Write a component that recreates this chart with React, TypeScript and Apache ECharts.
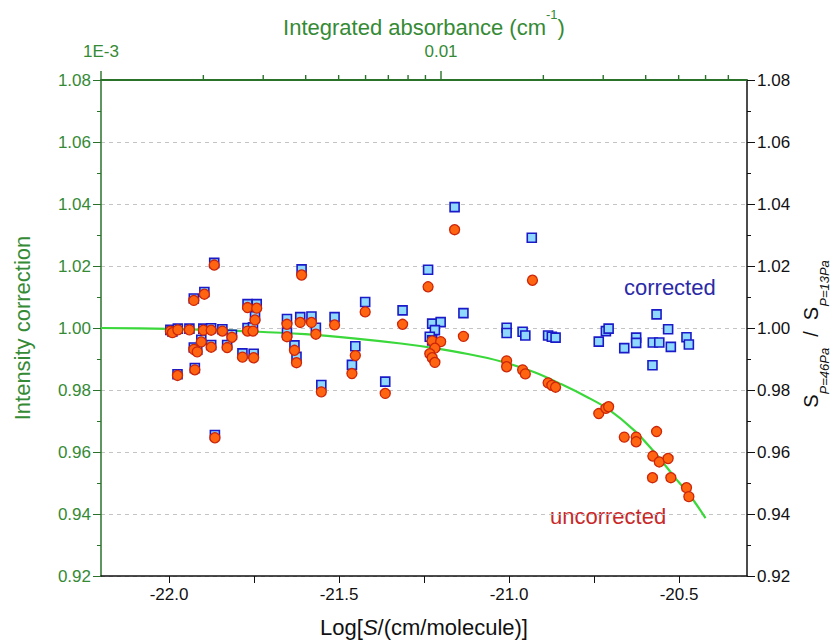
import React, { useEffect, useRef } from "react";
import * as echarts from "echarts";

// ---------- data ----------
const X_LABEL_TICKS = [-22.0, -21.5, -21.0, -20.5];
const X_ALL_TICKS = [-22.0, -21.75, -21.5, -21.25, -21.0, -20.75, -20.5];
const TOP_MAJOR = [0.001, 0.01];
const TOP_LABELS = ["1E-3", "0.01"];
const TOP_MINOR = [0.002, 0.003, 0.004, 0.005, 0.006, 0.007, 0.008, 0.009, 0.02, 0.03, 0.04, 0.05, 0.06, 0.07];

const UNCORRECTED: [number, number][] = [
  [-21.867, 1.0203], [-21.927, 1.0089], [-21.896, 1.0109], [-21.996, 0.999], [-21.99, 0.9985],
  [-21.974, 0.9994], [-21.94, 0.9994], [-21.899, 0.9993], [-21.876, 0.9993], [-21.843, 0.999],
  [-21.815, 0.997], [-21.769, 0.999], [-21.753, 0.999], [-21.769, 1.0066], [-21.742, 1.0064],
  [-21.747, 1.0026], [-21.905, 0.9955], [-21.927, 0.9931], [-21.917, 0.9923], [-21.876, 0.9938],
  [-21.829, 0.9937], [-21.784, 0.9906], [-21.751, 0.9904], [-21.975, 0.9847], [-21.924, 0.9865],
  [-21.865, 0.9646],
  [-21.61, 1.0171], [-21.653, 1.0012], [-21.653, 0.9972], [-21.614, 1.0018], [-21.581, 1.0018],
  [-21.568, 0.998], [-21.513, 1.001], [-21.423, 1.0052], [-21.313, 1.0012], [-21.238, 1.0133],
  [-21.16, 1.0317], [-21.631, 0.9928], [-21.625, 0.9888], [-21.452, 0.9911], [-21.462, 0.9853],
  [-21.552, 0.9794], [-21.364, 0.9789], [-21.226, 0.9958], [-21.201, 0.9956], [-21.218, 0.9935],
  [-21.233, 0.9917], [-21.226, 0.9904], [-21.218, 0.9889],
  [-21.134, 0.9973], [-20.931, 1.0154], [-21.007, 0.9894], [-21.007, 0.9875], [-20.96, 0.9865],
  [-20.952, 0.9852], [-20.885, 0.9823], [-20.874, 0.9815], [-20.863, 0.9809], [-20.736, 0.9724],
  [-20.715, 0.9741], [-20.707, 0.9746], [-20.661, 0.9648], [-20.626, 0.9648], [-20.626, 0.9633],
  [-20.566, 0.9666], [-20.577, 0.9587], [-20.558, 0.9568], [-20.532, 0.9579], [-20.578, 0.9517],
  [-20.524, 0.9517], [-20.478, 0.9485], [-20.471, 0.9456],
];

const CORRECTED: [number, number][] = [
  [-21.867, 1.021], [-21.927, 1.0095], [-21.896, 1.0116], [-21.996, 0.9994], [-21.99, 0.9989],
  [-21.974, 0.9998], [-21.94, 0.9998], [-21.899, 0.9998], [-21.876, 0.9999], [-21.843, 0.9996],
  [-21.815, 0.9978], [-21.769, 1.0], [-21.753, 1.0002], [-21.769, 1.0077], [-21.742, 1.0077],
  [-21.747, 1.0038], [-21.905, 0.9962], [-21.927, 0.9937], [-21.917, 0.993], [-21.876, 0.9945],
  [-21.829, 0.9945], [-21.784, 0.9918], [-21.751, 0.9917], [-21.975, 0.9851], [-21.924, 0.9871],
  [-21.865, 0.9655],
  [-21.61, 1.0189], [-21.653, 1.0029], [-21.653, 0.9985], [-21.614, 1.0035], [-21.581, 1.0037],
  [-21.568, 1.0001], [-21.513, 1.0035], [-21.423, 1.0084], [-21.313, 1.0057], [-21.238, 1.0188],
  [-21.16, 1.039], [-21.631, 0.9944], [-21.625, 0.9907], [-21.452, 0.9941], [-21.462, 0.9881],
  [-21.552, 0.9816], [-21.364, 0.9827], [-21.226, 1.0014], [-21.201, 1.0019], [-21.218, 0.9993],
  [-21.233, 0.9972], [-21.226, 0.996], [-21.218, 0.9945],
  [-21.134, 1.0048], [-20.933, 1.0291], [-21.007, 1.0001], [-21.007, 0.9984], [-20.96, 0.9988],
  [-20.952, 0.9976], [-20.885, 0.9976], [-20.874, 0.9972], [-20.863, 0.9969], [-20.736, 0.9956],
  [-20.715, 0.999], [-20.707, 0.9998], [-20.661, 0.9935], [-20.626, 0.9969], [-20.626, 0.9952],
  [-20.566, 1.0044], [-20.577, 0.9953], [-20.558, 0.9953], [-20.532, 0.9996], [-20.578, 0.988],
  [-20.524, 0.9939], [-20.478, 0.997], [-20.471, 0.9947],
];

const FIT: [number, number][] = [
  [-22.2, 1.0], [-22.0, 0.9997], [-21.8, 0.9991], [-21.6, 0.998], [-21.45, 0.9966],
  [-21.318, 0.995], [-21.22, 0.9935], [-21.121, 0.9916], [-21.023, 0.9892], [-20.925, 0.9857],
  [-20.847, 0.9819], [-20.768, 0.9776], [-20.709, 0.9739], [-20.631, 0.9669], [-20.572, 0.9599],
  [-20.513, 0.9519], [-20.464, 0.9454], [-20.422, 0.9387],
];

// ---------- styling ----------
const FONT = '"Liberation Sans", Arial, Helvetica, sans-serif';
const GREEN_LINE = "#2a722a";
const GREEN_TEXT = "#358a35";
const BLACK = "#111111";
const X_MIN = -22.2;
const X_MAX = -20.3;
const TOP_MIN = -3;
const TOP_MAX = -1.1;
const Y_MIN = 0.92;
const Y_MAX = 1.08;

export default function App() {
  const ref = useRef<HTMLDivElement>(null);

  useEffect(() => {
    if (!ref.current) return;
    const chart = echarts.init(ref.current, null, { renderer: "svg" });

    const topLabel = (v: number) => {
      const i = TOP_MAJOR.findIndex((t) => Math.abs(Math.log10(t) - v) < 1e-6);
      return i >= 0 ? TOP_LABELS[i] : "";
    };

    const textGraphics: any[] = [
      {
        type: "text",
        x: 624,
        y: 287,
        style: { text: "corrected", fontSize: 22, fontFamily: FONT, fill: "#2a2aa8", align: "left", verticalAlign: "middle" },
      },
      {
        type: "text",
        x: 550,
        y: 516,
        style: { text: "uncorrected", fontSize: 22, fontFamily: FONT, fill: "#c82828", align: "left", verticalAlign: "middle" },
      },
      {
        type: "text",
        x: 816,
        y: 334,
        rotation: Math.PI / 2,
        style: {
          text: "{s|S}{sub|P=46Pa}{sl|  /  }{s|S}{sub|P=13Pa}",
          align: "center",
          verticalAlign: "middle",
          rich: {
            s: { fontSize: 20, fill: BLACK, fontFamily: FONT, lineHeight: 20, verticalAlign: "top" },
            sl: { fontSize: 20, fill: BLACK, fontFamily: FONT, lineHeight: 20, verticalAlign: "top" },
            sub: { fontSize: 13, fill: BLACK, fontFamily: FONT, fontStyle: "italic", lineHeight: 30, verticalAlign: "bottom" },
          },
        },
      },
    ];

    const option: any = {
      animation: false,
      textStyle: { fontFamily: FONT },
      grid: { left: 101, right: 92, top: 80, bottom: 68, containLabel: false },
      xAxis: [
        {
          type: "value",
          position: "bottom",
          min: X_MIN,
          max: X_MAX,
          axisLine: { show: true, onZero: false, lineStyle: { color: BLACK, width: 1.5 } },
          axisTick: { show: true, inside: false, length: 7, customValues: X_ALL_TICKS, lineStyle: { color: BLACK } },
          axisLabel: {
            customValues: X_LABEL_TICKS,
            formatter: (v: number) => v.toFixed(1),
            color: BLACK,
            fontSize: 17,
            margin: 10,
            fontFamily: FONT,
          },
          splitLine: { show: false },
          name: "{n|Log[}{i|S}{n|/(cm/molecule)]}",
          nameLocation: "middle",
          nameGap: 40,
          nameTextStyle: {
            rich: {
              n: { fontSize: 22, color: BLACK, fontFamily: FONT },
              i: { fontSize: 22, color: BLACK, fontStyle: "italic", fontFamily: FONT },
            },
          },
        },
        {
          type: "value",
          position: "top",
          offset: 0,
          min: TOP_MIN,
          max: TOP_MAX,
          axisLine: { show: true, onZero: false, lineStyle: { color: GREEN_LINE, width: 1.6 } },
          axisTick: { show: false },
          axisLabel: {
            customValues: TOP_MAJOR.map((t) => Math.log10(t)),
            formatter: topLabel,
            color: GREEN_TEXT,
            fontSize: 17,
            margin: 20,
            fontFamily: FONT,
          },
          splitLine: { show: false },
          name: "{t|Integrated absorbance (cm}{sup|-1}{t|)}",
          nameLocation: "middle",
          nameGap: 38,
          nameTextStyle: {
            rich: {
              t: { fontSize: 22, color: GREEN_TEXT, fontFamily: FONT, lineHeight: 30, verticalAlign: "bottom" },
              sup: { fontSize: 13, color: GREEN_TEXT, fontFamily: FONT, lineHeight: 14, verticalAlign: "top" },
            },
          },
        },
      ],
      yAxis: [
        {
          type: "value",
          position: "left",
          min: Y_MIN,
          max: Y_MAX,
          interval: 0.02,
          axisLine: { show: true, onZero: false, lineStyle: { color: GREEN_LINE, width: 1.5 } },
          axisTick: { show: true, length: 8, lineStyle: { color: GREEN_LINE } },
          minorTick: { show: true, splitNumber: 2, length: 4, lineStyle: { color: GREEN_LINE } },
          axisLabel: {
            formatter: (v: number) => v.toFixed(2),
            color: GREEN_TEXT,
            fontSize: 17,
            margin: 10,
            fontFamily: FONT,
          },
          splitLine: { show: true, lineStyle: { color: "#c4c4c4", type: [4, 4], width: 1 } },
          name: "Intensity correction",
          nameLocation: "middle",
          nameGap: 68,
          nameTextStyle: { fontSize: 22, color: GREEN_TEXT, fontFamily: FONT },
        },
        {
          type: "value",
          position: "right",
          min: Y_MIN,
          max: Y_MAX,
          interval: 0.02,
          axisLine: { show: true, onZero: false, lineStyle: { color: BLACK, width: 1.5 } },
          axisTick: { show: true, length: 8, lineStyle: { color: BLACK } },
          minorTick: { show: true, splitNumber: 2, length: 4, lineStyle: { color: BLACK } },
          axisLabel: {
            formatter: (v: number) => v.toFixed(2),
            color: BLACK,
            fontSize: 17,
            margin: 10,
            fontFamily: FONT,
          },
          splitLine: { show: false },
        },
      ],
      graphic: textGraphics,
      series: [
        {
          type: "line",
          data: FIT,
          smooth: 0.3,
          showSymbol: false,
          symbol: "none",
          lineStyle: { color: "#3ad83a", width: 2.2 },
          z: 2,
        },
        {
          type: "scatter",
          data: CORRECTED,
          symbol: "rect",
          symbolSize: 9,
          itemStyle: { color: "#8fd9ff", borderColor: "#1a1ac8", borderWidth: 1.6, opacity: 1 },
          z: 3,
        },
        {
          type: "scatter",
          data: UNCORRECTED,
          symbol: "circle",
          symbolSize: 10,
          itemStyle: { color: "#ff6410", borderColor: "#cc260a", borderWidth: 1.3, opacity: 1 },
          z: 4,
        },
      ],
    };

    chart.setOption(option);

    // top (logarithmic) axis line and ticks, placed through the axes' own scales
    const yTop = chart.convertToPixel({ yAxisIndex: 0 }, Y_MAX) as number;
    const xLeft = chart.convertToPixel({ xAxisIndex: 1 }, TOP_MIN) as number;
    const xRight = chart.convertToPixel({ xAxisIndex: 1 }, TOP_MAX) as number;
    const topLines: any[] = [
      {
        type: "line",
        z: 300,
        silent: true,
        shape: { x1: xLeft, y1: yTop, x2: xRight, y2: yTop },
        style: { stroke: GREEN_LINE, lineWidth: 1.8 },
      },
    ];
    TOP_MAJOR.forEach((t) => {
      const x = chart.convertToPixel({ xAxisIndex: 1 }, Math.log10(t)) as number;
      topLines.push({
        type: "line",
        z: 300,
        silent: true,
        shape: { x1: x, y1: yTop, x2: x, y2: yTop - 9 },
        style: { stroke: GREEN_LINE, lineWidth: 1.4 },
      });
    });
    TOP_MINOR.forEach((t) => {
      const x = chart.convertToPixel({ xAxisIndex: 1 }, Math.log10(t)) as number;
      topLines.push({
        type: "line",
        z: 300,
        silent: true,
        shape: { x1: x, y1: yTop, x2: x, y2: yTop - 5 },
        style: { stroke: GREEN_LINE, lineWidth: 1.4 },
      });
    });
    chart.setOption({ graphic: [...textGraphics, ...topLines] });

    return () => chart.dispose();
  }, []);

  return (
    <div
      ref={ref}
      style={{ position: "absolute", left: 0, top: 0, width: 839, height: 644, background: "#ffffff" }}
    />
  );
}
